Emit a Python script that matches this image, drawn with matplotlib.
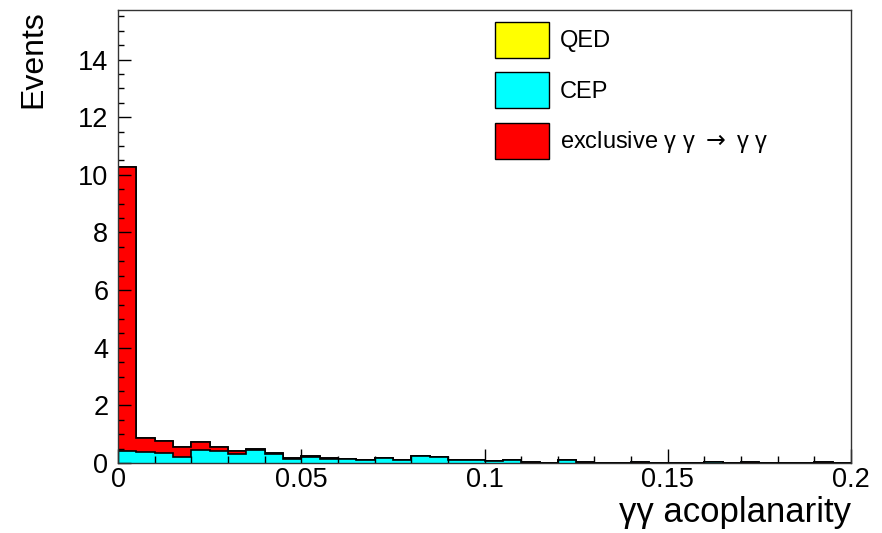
import numpy as np
import matplotlib
matplotlib.use("Agg")
import matplotlib.pyplot as plt
from matplotlib.patches import Patch
from matplotlib.ticker import MultipleLocator

plt.rcParams['font.family'] = ['Liberation Sans', 'DejaVu Sans']

# 40 bins of 0.005 in acoplanarity
bin_width = 0.005
n_bins = 40

# CEP (cyan) per bin
cep = [0.43, 0.37, 0.34, 0.22, 0.45, 0.43, 0.30, 0.45, 0.30, 0.15,
       0.22, 0.14, 0.13, 0.09, 0.18, 0.09, 0.23, 0.20, 0.09, 0.09,
       0.06, 0.09, 0.00, 0.00, 0.09, 0.00, 0.00, 0.00, 0.00, 0.00,
       0.00, 0.00, 0.04, 0.00, 0.00, 0.00, 0.00, 0.00, 0.00, 0.00]
# exclusive gamma gamma -> gamma gamma (red) per bin
excl = [9.84, 0.51, 0.42, 0.32, 0.28, 0.14, 0.12, 0.05, 0.06, 0.02,
        0.01, 0.02, 0.00, 0.00, 0.00, 0.00, 0.00, 0.00, 0.00, 0.00,
        0.00, 0.00, 0.03, 0.00, 0.00, 0.03, 0.00, 0.00, 0.03, 0.00,
        0.00, 0.00, 0.00, 0.00, 0.03, 0.00, 0.00, 0.00, 0.03, 0.00]
# QED (yellow), nothing visible
qed = [0.0] * n_bins

labels = ['QED', 'CEP', 'exclusive γ γ $\\rightarrow$ γ γ']
colors = ['#ffff00', '#00ffff', '#ff0000']

xticks = [0, 0.05, 0.1, 0.15, 0.2]
xticklabels = ['0', '0.05', '0.1', '0.15', '0.2']
yticks = [0, 2, 4, 6, 8, 10, 12, 14]

edges = np.arange(n_bins + 1) * bin_width
cep = np.array(cep)
excl = np.array(excl)
qed = np.array(qed)

fig = plt.figure(figsize=(8.82, 5.33), dpi=100)
ax = fig.add_axes([0.1338, 0.1313, 0.8311, 0.8499])

# stack: cyan at bottom, red on top, yellow on top of that
ax.stairs(cep + excl + qed, edges, fill=True, facecolor=colors[0],
          edgecolor='black', linewidth=1.2)
ax.stairs(cep + excl, edges, fill=True, facecolor=colors[2],
          edgecolor='black', linewidth=1.2)
ax.stairs(cep, edges, fill=True, facecolor=colors[1],
          edgecolor='black', linewidth=1.2)

ax.set_xlim(0, 0.2)
ax.set_ylim(0, 15.72)
ax.set_xticks(xticks)
ax.set_xticklabels(xticklabels)
ax.set_yticks(yticks)
ax.xaxis.set_minor_locator(MultipleLocator(0.01))
ax.yaxis.set_minor_locator(MultipleLocator(0.5))
ax.tick_params(axis='both', which='both', direction='in', top=False, right=False)
ax.tick_params(axis='x', which='major', length=10, width=1, labelsize=19.5, pad=3)
ax.tick_params(axis='x', which='minor', length=5, width=1)
ax.tick_params(axis='y', which='major', length=9, width=1, labelsize=19.5, pad=7)
ax.tick_params(axis='y', which='minor', length=4.5, width=1)
for s in ax.spines.values():
    s.set_linewidth(1.0)
    s.set_color('#333333')

ax.set_xlabel('γγ acoplanarity', fontsize=25, loc='right', labelpad=2)
ax.set_ylabel('Events', fontsize=23, loc='top', labelpad=21)

handles = [Patch(facecolor=c, edgecolor='black', linewidth=1.0) for c in colors]
ax.legend(handles, labels, loc='upper left', bbox_to_anchor=(0.514, 0.9746),
          frameon=False, fontsize=17, handlelength=2.29, handleheight=1.97,
          labelspacing=0.62, handletextpad=0.47, borderpad=0, borderaxespad=0)

fig.savefig('out.png', dpi=100)
